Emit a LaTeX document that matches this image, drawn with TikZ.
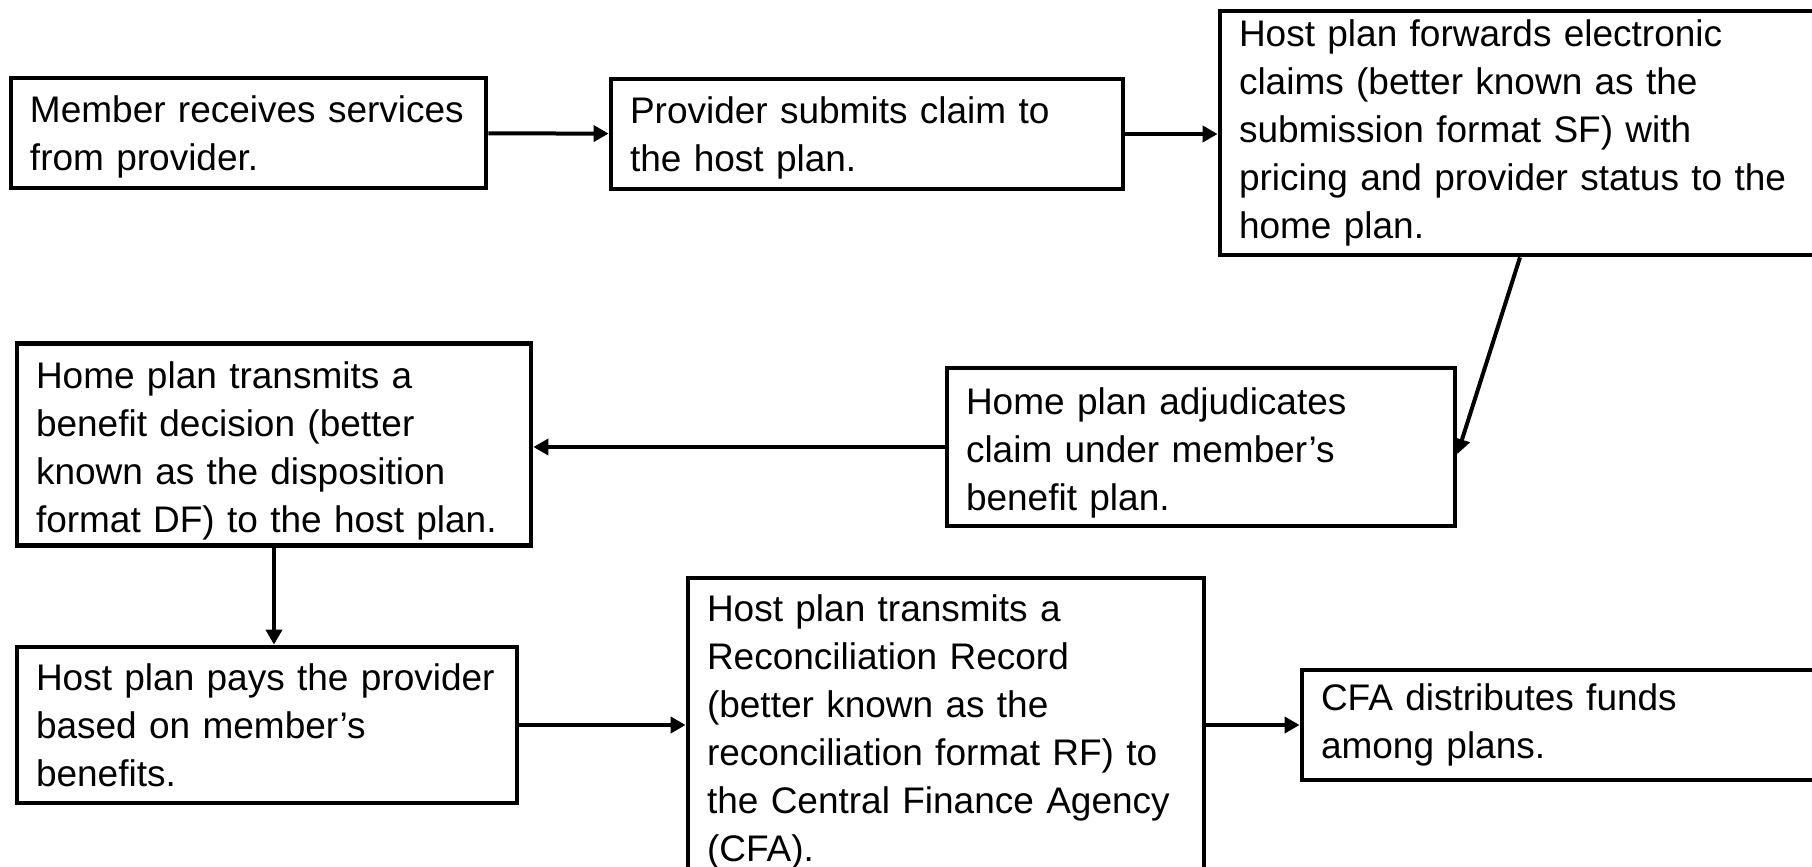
\documentclass[tikz,border=0pt]{standalone}
\usepackage{fontspec}
\setmainfont{Liberation Sans}
\usepackage{tikz}
\usetikzlibrary{arrows.meta}

\begin{document}
\begin{tikzpicture}[x=0.5pt,y=-0.5pt,
  stepbox/.style={draw,line width=2.4pt,inner xsep=9.5pt,inner ysep=3pt,align=left,
    font=\fontsize{18.5pt}{24pt}\selectfont},
  textdrop/.style={execute at begin node={\rule{0pt}{#1}}},
  flow/.style={line width=2pt,-{Triangle[length=7.5pt,width=8pt]}}]
\useasboundingbox (0,0) rectangle (1812,867);
\clip (0,0) rectangle (1812,867);
% top row
\node[stepbox,minimum width=237.5pt,text width=218.5pt,minimum height=55pt,textdrop=17pt] (member) at (248.5,133)
  {Member receives services\\from provider.};
\node[stepbox,minimum width=256pt,text width=237pt,minimum height=55pt,textdrop=17pt] (submit) at (867,134)
  {Provider submits claim to\\the host plan.};
\node[stepbox,minimum width=305pt,text width=286pt,minimum height=122pt] (forward) at (1525,133)
  {Host plan forwards electronic\\claims (better known as the\\submission format SF) with\\pricing and provider status to the\\home plan.};
% middle row
\node[stepbox,minimum width=254pt,text width=235pt,minimum height=79pt,textdrop=19.5pt] (adjud) at (1201,447)
  {Home plan adjudicates\\claim under member’s\\benefit plan.};
\node[stepbox,minimum width=257pt,text width=238pt,minimum height=99.5pt,textdrop=19.5pt] (decision) at (274,444.5)
  {Home plan transmits a\\benefit decision (better\\known as the disposition\\format DF) to the host plan.};
% bottom row
\node[stepbox,minimum width=250pt,text width=231pt,minimum height=78pt] (pays) at (267,725)
  {Host plan pays the provider\\based on member’s\\benefits.};
\node[stepbox,minimum width=258pt,text width=239pt,minimum height=154pt] (recon) at (946,732)
  {Host plan transmits a\\Reconciliation Record\\(better known as the\\reconciliation format RF) to\\the Central Finance Agency\\(CFA).};
\node[stepbox,minimum width=264pt,text width=245pt,minimum height=55pt] (cfa) at (1566,725)
  {CFA distributes funds\\among plans.};

\draw[flow] (member) -- (submit);
\draw[flow] (submit.east) -- (submit.east -| forward.west);
\draw[flow] ([xshift=-2.5pt]forward.south) -- ([yshift=-3.5pt]adjud.east);
\draw[flow] (adjud.west) -- (adjud.west -| decision.east);
\draw[flow] (decision.south) -- (decision.south |- pays.north);
\draw[flow] (pays) -- (pays -| recon.west);
\draw[flow] (recon.east |- cfa.west) -- (cfa.west);
\end{tikzpicture}
\end{document}
